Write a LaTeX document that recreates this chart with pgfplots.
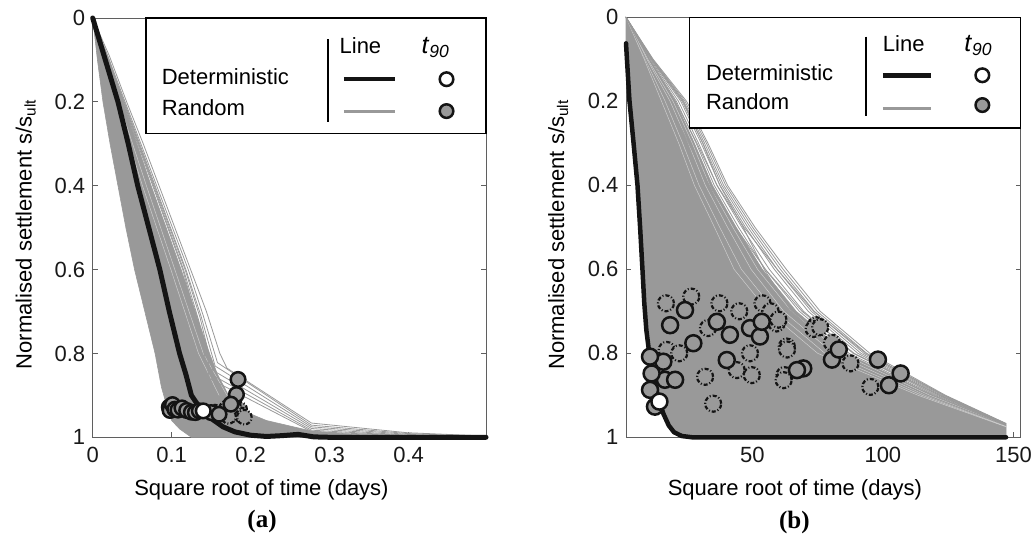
\documentclass[border=0pt]{standalone}
\usepackage{pgfplots}
\pgfplotsset{compat=1.18}
\usepackage{fontspec}
\setmainfont{Liberation Sans}
\newfontfamily\timesfont{Liberation Serif}
\definecolor{rgray}{RGB}{153,153,153}
\definecolor{framec}{RGB}{95,95,95}
\definecolor{blk}{RGB}{20,20,20}
\pgfplotsset{
  panel/.style={
    scale only axis, clip=false,
    y dir=reverse, ymin=0, ymax=1,
    ytick={0,0.2,0.4,0.6,0.8,1},
    yticklabels={0,0.2,0.4,0.6,0.8,1},
    tick align=inside,
    major tick length=5pt,
    axis line style={framec, line width=0.8pt},
    every tick/.style={framec, line width=0.8pt},
    tick label style={font=\fontsize{22}{26}\selectfont, text=black!90},
    /pgf/number format/assume math mode=true,
    xticklabel style={yshift=-2pt},
    xlabel style={font=\fontsize{22}{26}\selectfont},
    ylabel style={font=\fontsize{23}{27}\selectfont},
    every axis y label/.style={rotate=90, anchor=center},
    every axis x label/.style={anchor=center},
  },
  rl/.style={rgray, line width=0.8pt, line join=round},
  wl/.style={white, opacity=0.55, line width=0.45pt, line join=round},
  core/.style={draw=rgray, fill=rgray, line width=0.6pt},
  blkline/.style={blk, line join=round, line cap=round},
  circ/.style={only marks, mark=*, mark size=#1, mark options={solid, fill=rgray, draw=blk, line width=2.5pt}},
  dcirc/.style={only marks, mark=*, mark size=#1, mark options={fill=rgray, draw=blk, line width=2.2pt, dash pattern=on 4pt off 2pt on 1pt off 2pt}},
  wcirc/.style={only marks, mark=*, mark size=#1, mark options={solid, fill=white, draw=blk, line width=2.5pt}},
}
\newcommand{\tn}{\fontsize{25}{28}\selectfont\textit{t}\textsubscript{\textit{90}}}
\begin{document}
\fontsize{22}{26}\selectfont
\begin{tikzpicture}
\useasboundingbox (0,0) rectangle (1031pt,538pt);
% ================= panel (a) =================
\begin{axis}[panel,
  at={(92.7pt,100.7pt)}, anchor=south west,
  width=393.3pt, height=419.3pt,
  xmin=0, xmax=0.498,
  xtick={0,0.1,0.2,0.3,0.4},
  xticklabels={0,0.1,0.2,0.3,0.4},
  xlabel={Square root of time (days)},
  ylabel={Normalised settlement s/s\textsubscript{ult}},
  xlabel style={at={(axis description cs:0.429,-0.125)}},
  ylabel style={at={(axis description cs:-0.17,0.484)}},
]
% dense band of random curves
\addplot[core] coordinates {
(0,0)(0.021,0.1)(0.038,0.2)(0.056,0.3)(0.074,0.4)(0.093,0.5)(0.112,0.6)(0.130,0.7)(0.148,0.8)(0.158,0.85)(0.172,0.9)(0.188,0.935)(0.22,0.96)(0.277,0.985)(0.33,0.993)(0.40,0.997)(0.498,1.0)
(0.125,1.0)(0.11,0.98)(0.1,0.96)(0.093,0.92)(0.087,0.88)(0.079,0.8)(0.066,0.7)(0.053,0.6)(0.042,0.5)(0.032,0.4)(0.022,0.3)(0.013,0.2)(0.006,0.1)(0,0)} --cycle;
\addplot[wl] coordinates {(0,0)(0.033,0.2)(0.068,0.4)(0.104,0.6)(0.14,0.8)(0.17,0.9)};
\addplot[wl] coordinates {(0,0)(0.03,0.2)(0.063,0.4)(0.099,0.6)(0.134,0.8)(0.16,0.9)};
% outer random curves
\addplot[rl] coordinates {(0,0)(0.021,0.09)(0.043,0.2)(0.064,0.3)(0.084,0.4)(0.104,0.5)(0.124,0.6)(0.144,0.7)(0.161,0.8)(0.17,0.835)(0.277,0.966)(0.398,0.989)(0.498,0.997)};
\addplot[rl] coordinates {(0,0)(0.021,0.1)(0.041,0.2)(0.061,0.3)(0.081,0.4)(0.101,0.5)(0.121,0.6)(0.140,0.71)(0.158,0.822)(0.277,0.971)(0.398,0.991)(0.498,0.998)};
\addplot[rl] coordinates {(0,0)(0.04,0.2)(0.079,0.4)(0.118,0.6)(0.137,0.71)(0.155,0.83)(0.277,0.975)(0.398,0.993)(0.498,0.999)};
\addplot[rl] coordinates {(0,0)(0.039,0.2)(0.078,0.4)(0.117,0.6)(0.136,0.715)(0.152,0.84)(0.277,0.979)(0.398,0.995)(0.498,1)};
\addplot[rl] coordinates {(0,0)(0.039,0.2)(0.077,0.4)(0.115,0.6)(0.134,0.72)(0.15,0.85)(0.277,0.983)(0.398,0.996)(0.498,1)};
\addplot[rl] coordinates {(0,0)(0.038,0.2)(0.076,0.4)(0.114,0.6)(0.133,0.73)(0.148,0.86)(0.277,0.986)(0.398,0.997)(0.498,1)};
% t90 of random curves
\addplot[dcirc=7.3pt] coordinates {(0.155,0.940)(0.165,0.942)(0.170,0.930)(0.176,0.937)(0.180,0.945)(0.186,0.933)(0.189,0.947)(0.192,0.952)(0.178,0.925)(0.172,0.95)};
\addplot[circ=7.3pt] coordinates {(0.097,0.928)(0.098,0.936)(0.101,0.922)(0.104,0.933)(0.108,0.935)(0.113,0.930)(0.119,0.936)(0.125,0.940)(0.130,0.941)(0.135,0.937)(0.150,0.941)(0.160,0.945)(0.184,0.862)(0.182,0.898)(0.175,0.921)};
% deterministic
\addplot[blkline, line width=5pt] coordinates {(0,0)(0.016,0.1)(0.032,0.2)(0.045,0.3)(0.057,0.4)(0.071,0.5)(0.085,0.6)(0.097,0.7)(0.11,0.8)(0.118,0.85)(0.125,0.9)(0.134,0.925)(0.14,0.937)(0.15,0.955)(0.165,0.975)(0.18,0.987)(0.2,0.995)(0.22,0.998)(0.24,0.996)(0.26,0.993)(0.28,0.999)(0.3,1)(0.498,1)};
\addplot[wcirc=7.3pt] coordinates {(0.140,0.937)};
% legend
\addplot[draw=black, fill=white, line width=1.3pt] coordinates {(0.0675,0)(0.498,0)(0.498,0.275)(0.0675,0.275)} --cycle;
\addplot[black, line width=1.6pt] coordinates {(0.2978,0.051)(0.2978,0.247)};
\addplot[blk, line width=4.5pt] coordinates {(0.318,0.146)(0.383,0.146)};
\addplot[rgray, line width=3pt] coordinates {(0.318,0.224)(0.383,0.224)};
\addplot[wcirc=6.8pt] coordinates {(0.448,0.146)};
\addplot[circ=6.8pt] coordinates {(0.448,0.222)};
\node[anchor=west, inner sep=0pt] at (axis cs:0.0873,0.140) {Deterministic};
\node[anchor=west, inner sep=0pt] at (axis cs:0.0873,0.214) {Random};
\node[inner sep=0pt] at (axis cs:0.339,0.067) {Line};
\node[inner sep=0pt] at (axis cs:0.434,0.071) {\tn};
\node[font=\timesfont\bfseries\fontsize{25}{28}\selectfont] at (axis description cs:0.4305,-0.2017) {(a)};
\end{axis}
% ================= panel (b) =================
\begin{axis}[panel,
  at={(626pt,100.7pt)}, anchor=south west,
  width=394.7pt, height=420pt,
  xmin=1.6, xmax=152.8,
  xtick={50,100,150},
  xticklabels={50,100,150},
  xlabel={Square root of time (days)},
  ylabel={Normalised settlement s/s\textsubscript{ult}},
  xlabel style={at={(axis description cs:0.428,-0.125)}},
  ylabel style={at={(axis description cs:-0.172,0.482)}},
]
\addplot[core] coordinates {(1.6,0)(10.4,0.1)(20.4,0.2)(27.8,0.3)(34.7,0.4)(43.8,0.5)(53.8,0.6)(66.8,0.7)(85.8,0.8)(119.2,0.9)(147.2,0.971)(147.2,1)(23,1)(20,0.99)(18,0.975)(16,0.945)(14.4,0.915)(12.5,0.87)(10.8,0.8)(9.4,0.745)(7.9,0.6)(6,0.4)(2.9,0.197)(1.6,0.062)} --cycle;
% lighter streaks inside the dense band
\addplot[wl] coordinates {(1.6,0)(9.6,0.1)(18.5,0.2)(25.5,0.3)(32,0.4)(40.5,0.5)(49.5,0.6)(62,0.7)(81,0.8)(116.5,0.9)(147.2,0.972)};
\addplot[wl] coordinates {(1.6,0)(9,0.1)(16.6,0.2)(23.3,0.3)(29.6,0.4)(37.5,0.5)(45.8,0.6)(58.8,0.7)(77.8,0.8)(115,0.9)(147.2,0.974)};
\addplot[wl] coordinates {(1.6,0)(8.6,0.1)(15.2,0.2)(21.8,0.3)(27.8,0.4)(35.5,0.5)(43,0.6)(56,0.7)(75,0.8)(113.5,0.9)(147.2,0.975)};
\addplot[wl] coordinates {(1.6,0)(10,0.1)(19.6,0.2)(27,0.3)(33.6,0.4)(42.5,0.5)(52,0.6)(65,0.7)(84,0.8)(118,0.9)(147.2,0.972)};
% outer random curves
\addplot[rl] coordinates {(1.6,0)(12,0.1)(24.8,0.2)(33,0.3)(40.5,0.4)(51,0.5)(63,0.6)(76,0.7)(95,0.8)(124,0.9)(147.2,0.967)};
\addplot[rl] coordinates {(1.6,0)(11.8,0.1)(24.2,0.2)(32.4,0.3)(39.8,0.4)(50.1,0.5)(61.8,0.6)(74.8,0.7)(93.8,0.8)(123.4,0.9)(147.2,0.968)};
\addplot[rl] coordinates {(1.6,0)(11.6,0.1)(23.7,0.2)(31.7,0.3)(39,0.4)(49.2,0.5)(60.7,0.6)(73.7,0.7)(92.7,0.8)(122.8,0.9)(147.2,0.969)};
\addplot[rl] coordinates {(1.6,0)(11.4,0.1)(23.1,0.2)(31.1,0.3)(38.3,0.4)(48.3,0.5)(59.5,0.6)(72.6,0.7)(91.6,0.8)(122.2,0.9)(147.2,0.969)};
\addplot[rl] coordinates {(1.6,0)(11.2,0.1)(22.6,0.2)(30.4,0.3)(37.6,0.4)(47.4,0.5)(58.4,0.6)(71.4,0.7)(90.4,0.8)(121.6,0.9)(147.2,0.97)};
\addplot[rl] coordinates {(1.6,0)(10.9,0.1)(21.7,0.2)(29.4,0.3)(36.4,0.4)(46,0.5)(56.5,0.6)(69.6,0.7)(88.6,0.8)(120.6,0.9)(147.2,0.97)};
\addplot[rl] coordinates {(1.6,0)(10.6,0.1)(20.9,0.2)(28.5,0.3)(35.4,0.4)(44.7,0.5)(54.9,0.6)(68,0.7)(87,0.8)(119.8,0.9)(147.2,0.971)};
\addplot[rl] coordinates {(1.6,0)(9.2,0.1)(17.5,0.2)(25.6,0.3)(33.5,0.4)(43.5,0.5)(55,0.6)(69,0.7)(89,0.8)(121.5,0.9)(147.2,0.969)};
\addplot[rl] coordinates {(1.6,0)(11.6,0.1)(23.5,0.2)(31,0.3)(37.5,0.4)(46.5,0.5)(54.5,0.6)(65,0.7)(83,0.8)(117,0.9)(147.2,0.972)};
\addplot[rl] coordinates {(1.6,0)(10.4,0.1)(20.5,0.2)(28.8,0.3)(36.5,0.4)(46.8,0.5)(59.5,0.6)(73.5,0.7)(93.5,0.8)(123.5,0.9)(147.2,0.968)};
% t90 of random curves
\addplot[dcirc=8pt] coordinates {(16.9,0.681)(26.6,0.665)(37.4,0.681)(53.9,0.681)(59.3,0.729)(63.2,0.784)(62.3,0.852)(49.1,0.80)(49.8,0.852)(31.9,0.856)(44,0.84)(17.2,0.792)(74.4,0.733)(73.5,0.742)(76,0.738)(80.5,0.775)(63.3,0.791)(62,0.864)(87.6,0.824)(95.2,0.88)(33,0.74)(45,0.70)(57,0.70)(22,0.80)(35,0.92)(60,0.72)};
\addplot[circ=8pt] coordinates {(18.5,0.733)(24.2,0.697)(27.4,0.776)(36.4,0.725)(41.4,0.756)(40.2,0.816)(49.1,0.74)(52.9,0.76)(53.6,0.725)(69.5,0.836)(80.5,0.815)(98.1,0.815)(102.3,0.876)(106.8,0.848)(16.5,0.863)(20.4,0.863)(15.9,0.82)(10.8,0.808)(11.4,0.848)(10.8,0.887)(12.7,0.927)(83.1,0.791)(67.1,0.84)};
% deterministic
\addplot[blkline, line width=4.5pt] coordinates {(1.6,0.062)(2.9,0.197)(4.5,0.3)(6.0,0.40)(7.0,0.5)(7.9,0.60)(8.6,0.68)(9.4,0.745)(10.5,0.80)(12.5,0.87)(14.4,0.915)(16,0.945)(18,0.972)(20,0.988)(23,0.997)(27,1.0)(147.2,1.0)};
\addplot[wcirc=8pt] coordinates {(14.4,0.915)};
% legend
\addplot[draw=black, fill=white, line width=1.3pt] coordinates {(25.9,0)(152.8,0)(152.8,0.2636)(25.9,0.2636)} --cycle;
\addplot[black, line width=1.6pt] coordinates {(93.6,0.046)(93.6,0.234)};
\addplot[blk, line width=4.5pt] coordinates {(100,0.138)(118.5,0.138)};
\addplot[rgray, line width=3pt] coordinates {(100,0.216)(118.5,0.216)};
\addplot[wcirc=6.8pt] coordinates {(138.1,0.138)};
\addplot[circ=6.8pt] coordinates {(138.1,0.209)};
\node[anchor=west, inner sep=0pt] at (axis cs:32.2,0.132) {Deterministic};
\node[anchor=west, inner sep=0pt] at (axis cs:32.2,0.201) {Random};
\node[inner sep=0pt] at (axis cs:108,0.0626) {Line};
\node[inner sep=0pt] at (axis cs:136.5,0.0667) {\tn};
\node[font=\timesfont\bfseries\fontsize{25}{28}\selectfont] at (axis description cs:0.4264,-0.2017) {(b)};
\end{axis}
\end{tikzpicture}
\end{document}
